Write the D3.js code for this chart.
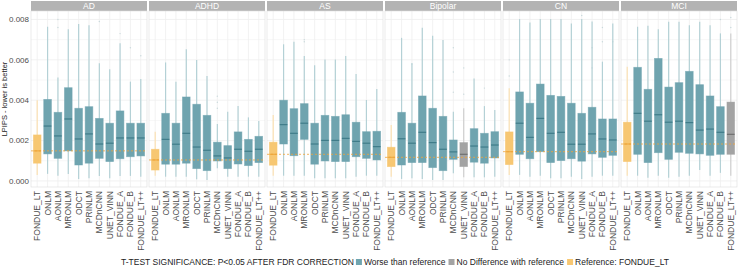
<!DOCTYPE html>
<html>
<head>
<meta charset="utf-8">
<script src="https://cdn.jsdelivr.net/npm/d3@7"></script>
<style>
  body { margin: 0; background: #fff; }
  text { font-family: "Liberation Sans", Arial, sans-serif; }
</style>
</head>
<body>
<div id="wrapper"></div>
<script>
// values are LPIPS x 1e-3 : [lower whisker, q1, median, q3, upper whisker]
const groups = ["AD", "ADHD", "AS", "Bipolar", "CN", "MCI"]
const methods = ["FONDUE_LT", "ONLM", "AONLM", "MRONLM", "ODCT", "PRINLM",
  "MCDnCNN", "UNET_VINN", "FONDUE_A", "FONDUE_B", "FONDUE_LT++"]
const yTicks = [0, 0.002, 0.004, 0.006, 0.008]

const statsAD = [
  [0.30, 0.88, 1.49, 2.28, 4.00], [0.35, 1.34, 2.72, 4.04, 7.64], [0.26, 1.12, 2.23, 3.40, 5.13],
  [0.35, 1.49, 3.07, 4.62, 7.52], [0.10, 0.79, 2.08, 3.60, 7.77], [0.13, 0.88, 2.33, 3.68, 7.72],
  [0.25, 1.12, 1.83, 3.10, 5.83], [0.13, 0.96, 1.87, 2.86, 5.54], [0.25, 1.10, 2.13, 3.47, 6.82],
  [0.25, 1.20, 2.13, 2.86, 4.92], [0.21, 1.24, 2.13, 2.86, 5.05]]
const statsADHD = [
  [0.26, 0.54, 1.04, 1.57, 2.44], [0.21, 0.83, 2.06, 3.35, 5.87], [0.21, 0.83, 1.82, 2.86, 4.92],
  [0.21, 0.88, 2.36, 4.16, 6.53], [0.08, 0.61, 1.68, 3.80, 5.99], [0.05, 0.51, 1.52, 3.25, 5.20],
  [0.63, 0.99, 1.24, 1.92, 2.82], [0.21, 0.61, 1.14, 1.75, 3.43], [0.21, 0.84, 1.57, 2.43, 3.71],
  [0.21, 0.76, 1.47, 2.06, 3.15], [0.21, 0.91, 1.57, 2.21, 2.97]]
const statsAS = [
  [0.26, 0.78, 1.32, 1.92, 3.27], [0.26, 1.83, 2.79, 4.00, 6.77], [0.26, 1.25, 2.36, 3.58, 6.90],
  [0.26, 2.06, 2.86, 3.83, 6.19], [0.13, 0.83, 1.83, 2.86, 5.73], [0.13, 0.99, 2.01, 3.25, 6.02],
  [0.13, 0.96, 2.01, 3.20, 6.02], [0.13, 0.96, 2.11, 3.28, 6.19], [0.21, 1.20, 1.96, 2.91, 5.30],
  [0.26, 1.12, 1.87, 2.44, 4.01], [0.26, 1.04, 1.70, 2.46, 4.55]]
const statsBipolar = [
  [0.21, 0.71, 1.17, 1.67, 2.77], [0.10, 0.79, 2.09, 3.40, 7.09], [0.13, 0.91, 1.87, 2.86, 5.83],
  [0.10, 0.91, 2.41, 4.21, 7.59], [0.05, 0.66, 1.90, 3.60, 7.19], [0.05, 0.51, 1.57, 3.20, 6.98],
  [0.38, 1.07, 1.44, 2.03, 3.43], [0.18, 0.71, 1.32, 1.90, 3.60], [0.18, 0.93, 1.73, 2.59, 5.08],
  [0.18, 0.88, 1.68, 2.36, 3.71], [0.21, 1.14, 1.78, 2.44, 3.51]]
const statsCN = [
  [0.30, 0.81, 1.45, 2.43, 4.59], [0.30, 1.32, 2.86, 4.41, 8.02], [0.21, 1.10, 2.16, 3.85, 7.85],
  [0.26, 1.45, 3.10, 4.80, 8.02], [0.13, 0.91, 2.36, 4.24, 8.02], [0.13, 1.01, 2.41, 4.19, 8.02],
  [0.21, 1.10, 1.82, 3.85, 7.80], [0.10, 0.98, 1.82, 3.35, 8.02], [0.21, 1.34, 2.33, 3.65, 7.90],
  [0.26, 1.17, 2.08, 3.07, 5.91], [0.26, 1.27, 2.03, 3.07, 7.80]]
const statsMCI = [
  [0.26, 0.96, 1.83, 2.91, 5.66], [0.26, 1.32, 3.35, 5.63, 7.64], [0.16, 0.91, 2.96, 4.54, 7.69],
  [0.26, 1.40, 3.28, 6.07, 7.51], [0.16, 1.07, 2.91, 4.65, 7.89], [0.21, 1.42, 2.96, 4.87, 7.89],
  [0.26, 1.37, 2.89, 5.43, 7.72], [0.54, 1.34, 2.52, 4.77, 7.89], [0.26, 1.27, 2.57, 4.21, 7.72],
  [0.40, 1.32, 2.41, 3.68, 7.31], [0.26, 1.32, 2.31, 3.91, 7.31]]

// significance: W = worse than reference, N = no difference, R = reference
const signifAD = ["R", "W", "W", "W", "W", "W", "W", "W", "W", "W", "W"]
const signifADHD = ["R", "W", "W", "W", "W", "W", "W", "W", "W", "W", "W"]
const signifAS = ["R", "W", "W", "W", "W", "W", "W", "W", "W", "W", "W"]
const signifBipolar = ["R", "W", "W", "W", "W", "W", "W", "N", "W", "W", "W"]
const signifCN = ["R", "W", "W", "W", "W", "W", "W", "W", "W", "W", "W"]
const signifMCI = ["R", "W", "W", "W", "W", "W", "W", "W", "W", "W", "N"]

// a few visible outliers: [group, method, value x 1e-3]
const outliers = [
  ["AD", "AONLM", 7.6], ["AD", "AONLM", 8.0], ["AD", "FONDUE_A", 7.3], ["AD", "FONDUE_B", 6.6],
  ["AD", "FONDUE_LT++", 6.2], ["AD", "MCDnCNN", 7.9],
  ["ADHD", "MCDnCNN", 3.6], ["ADHD", "MCDnCNN", 3.9], ["ADHD", "MCDnCNN", 4.2],
  ["AS", "MRONLM", 6.9], ["AS", "MRONLM", 7.0],
  ["Bipolar", "AONLM", 5.8], ["Bipolar", "MCDnCNN", 4.4], ["Bipolar", "MCDnCNN", 5.4],
  ["Bipolar", "MCDnCNN", 6.6], ["Bipolar", "UNET_VINN", 4.3], ["Bipolar", "UNET_VINN", 5.6],
  ["Bipolar", "FONDUE_B", 4.6],
  ["CN", "UNET_VINN", 8.2], ["CN", "FONDUE_A", 5.6], ["CN", "FONDUE_A", 6.6], ["CN", "FONDUE_B", 6.9],
  ["CN", "FONDUE_B", 7.6], ["CN", "FONDUE_LT++", 6.9], ["CN", "FONDUE_LT", 5.2], ["CN", "FONDUE_LT", 6.0],
  ["MCI", "FONDUE_LT++", 7.6], ["MCI", "FONDUE_LT++", 8.1], ["MCI", "FONDUE_B", 8.0]]

const legendLabels = ["Worse than reference", "No Difference with reference", "Reference: FONDUE_LT"]

const statsByGroup = {AD: statsAD, ADHD: statsADHD, AS: statsAS, Bipolar: statsBipolar, CN: statsCN, MCI: statsMCI}
const signifByGroup = {AD: signifAD, ADHD: signifADHD, AS: signifAS, Bipolar: signifBipolar, CN: signifCN, MCI: signifMCI}

const palette = {
  W: {fill: "#6fa4af", median: "#3f7c89", whisker: "#b4d1d6"},
  N: {fill: "#a3a3a3", median: "#6f6f6f", whisker: "#cfcfcf"},
  R: {fill: "#f7c772", median: "#eeaa40", whisker: "#fbe1b3"},
}

const width = 739
const height = 267
const margin = {top: 11, right: 2, bottom: 80, left: 31}
const plotBottom = 187

const svg = d3.select("#wrapper").append("svg")
  .attr("width", width)
  .attr("height", height)

const panelScale = d3.scaleBand()
  .domain(groups)
  .range([margin.left, width - margin.right])
  .paddingInner(0.017)

const y = d3.scaleLinear()
  .domain([-0.0003, 0.00842])
  .range([plotBottom, margin.top])

// y axis
const yFmt = d3.format(".3f")
svg.append("g")
  .selectAll("text")
  .data(yTicks)
  .join("text")
    .attr("x", margin.left - 2)
    .attr("y", d => y(d))
    .attr("dy", "0.35em")
    .attr("text-anchor", "end")
    .attr("font-size", 8)
    .attr("fill", "#4d4d4d")
    .text(yFmt)

svg.append("text")
  .attr("transform", `translate(4,${(margin.top + plotBottom) / 2}) rotate(-90)`)
  .attr("text-anchor", "middle")
  .attr("dy", "0.35em")
  .attr("font-size", 7.5)
  .attr("fill", "#222")
  .text("LPIPS - lower is better")

const minorTicks = d3.range(0, 0.0085, 0.001)

groups.forEach(g => {
  const x0 = panelScale(g)
  const pw = panelScale.bandwidth()
  const x = d3.scalePoint().domain(methods).range([x0, x0 + pw]).padding(0.6)
  const step = x.step()
  const bw = step * 0.74
  const stats = statsByGroup[g]
  const sig = signifByGroup[g]
  const panel = svg.append("g")

  // grid
  panel.selectAll(".hgrid")
    .data(minorTicks)
    .join("line")
      .attr("x1", x0).attr("x2", x0 + pw)
      .attr("y1", d => y(d)).attr("y2", d => y(d))
      .attr("stroke", "#efefef")
      .attr("stroke-width", (d, i) => i % 2 === 0 ? 0.8 : 0.5)
  panel.selectAll(".vgrid")
    .data(methods)
    .join("line")
      .attr("x1", d => x(d)).attr("x2", d => x(d))
      .attr("y1", margin.top).attr("y2", plotBottom)
      .attr("stroke", "#efefef")
      .attr("stroke-width", 0.8)

  // strip
  panel.append("rect")
    .attr("x", x0).attr("y", 1)
    .attr("width", pw).attr("height", margin.top - 1)
    .attr("fill", "#b3b3b3")
  panel.append("text")
    .attr("x", x0 + pw / 2).attr("y", 6)
    .attr("dy", "0.35em")
    .attr("text-anchor", "middle")
    .attr("font-size", 8.5)
    .attr("fill", "#fff")
    .text(g)

  // panel border
  panel.append("rect")
    .attr("x", x0).attr("y", margin.top)
    .attr("width", pw).attr("height", plotBottom - margin.top)
    .attr("fill", "none")
    .attr("stroke", "#dcdcdc")
    .attr("stroke-width", 0.6)

  // outliers
  panel.selectAll(".out")
    .data(outliers.filter(o => o[0] === g))
    .join("circle")
      .attr("cx", d => x(d[1]))
      .attr("cy", d => y(d[2] / 1000))
      .attr("r", 0.7)
      .attr("fill", "#c9d9dc")

  const boxes = panel.selectAll(".box")
    .data(methods.map((m, i) => ({m, s: stats[i].map(v => v / 1000), c: palette[sig[i]]})))
    .join("g")

  boxes.append("line")
    .attr("x1", d => x(d.m)).attr("x2", d => x(d.m))
    .attr("y1", d => y(d.s[0])).attr("y2", d => y(d.s[4]))
    .attr("stroke", d => d.c.whisker)
    .attr("stroke-width", 1.2)

  boxes.append("rect")
    .attr("x", d => x(d.m) - bw / 2)
    .attr("width", bw)
    .attr("y", d => y(d.s[3]))
    .attr("height", d => y(d.s[1]) - y(d.s[3]))
    .attr("fill", d => d.c.fill)
    .attr("stroke", d => d.c.fill)
    .attr("stroke-opacity", 0.6)
    .attr("stroke-width", 0.8)

  boxes.append("line")
    .attr("x1", d => x(d.m) - bw / 2).attr("x2", d => x(d.m) + bw / 2)
    .attr("y1", d => y(d.s[2])).attr("y2", d => y(d.s[2]))
    .attr("stroke", d => d.c.median)
    .attr("stroke-width", 1.2)

  // reference line at FONDUE_LT median
  panel.append("line")
    .attr("x1", x0).attr("x2", x0 + pw)
    .attr("y1", y(stats[0][2] / 1000)).attr("y2", y(stats[0][2] / 1000))
    .attr("stroke", "#f0a43a")
    .attr("stroke-width", 0.8)
    .attr("stroke-dasharray", "2,2")

  // x labels
  panel.selectAll(".xlab")
    .data(methods)
    .join("text")
      .attr("transform", d => `translate(${x(d)},${plotBottom + 4}) rotate(-90)`)
      .attr("text-anchor", "end")
      .attr("dy", "0.35em")
      .attr("font-size", 8.5)
      .attr("fill", "#4d4d4d")
      .text(d => d)
})

// legend
const legend = svg.append("g").attr("transform", `translate(0,${262})`)
const title = legend.append("text")
  .attr("x", 121).attr("dy", "0.35em")
  .attr("font-size", 8.5)
  .attr("fill", "#222")
  .text("T-TEST SIGNIFICANCE: P<0.05 AFTER FDR CORRECTION")

let lx = 121 + title.node().getComputedTextLength() + 2
const legendKeys = ["W", "N", "R"]
legendKeys.forEach((k, i) => {
  legend.append("rect")
    .attr("x", lx).attr("y", -3)
    .attr("width", 6).attr("height", 6)
    .attr("fill", palette[k].fill)
  const t = legend.append("text")
    .attr("x", lx + 8).attr("dy", "0.35em")
    .attr("font-size", 8.5)
    .attr("fill", "#222")
    .text(legendLabels[i])
  lx += 8 + t.node().getComputedTextLength() + 3
})
</script>
</body>
</html>
